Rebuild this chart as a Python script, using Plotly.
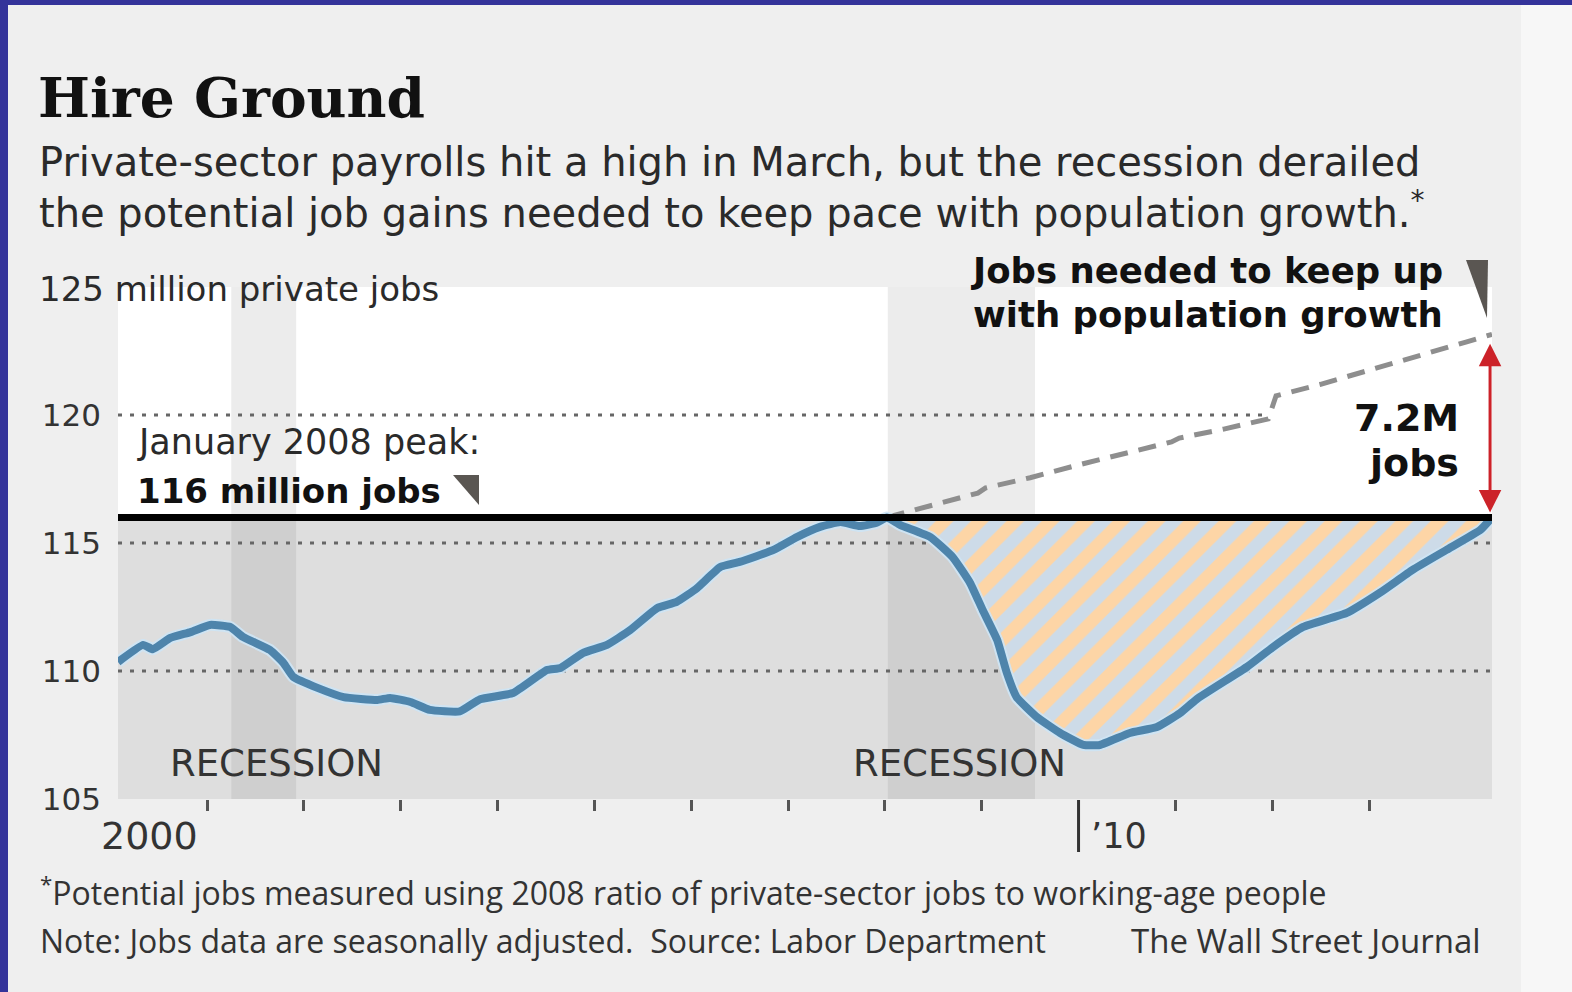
import numpy as np
import plotly.graph_objects as go

# ---------------- data ----------------
# private payrolls, millions (decimal year)
act_years = [2000.08, 2000.34, 2000.44, 2000.62, 2000.83, 2001.03, 2001.24, 2001.37,
             2001.65, 2001.79, 2001.89, 2002.14, 2002.41, 2002.76, 2002.89, 2003.10,
             2003.30, 2003.61, 2003.82, 2004.16, 2004.51, 2004.65, 2004.88, 2005.13,
             2005.37, 2005.65, 2005.85, 2006.06, 2006.30, 2006.50, 2006.85, 2007.09,
             2007.33, 2007.54, 2007.74, 2007.92, 2008.02, 2008.16, 2008.47, 2008.70,
             2008.88, 2009.01, 2009.16, 2009.26, 2009.36, 2009.57, 2009.81, 2010.05,
             2010.22, 2010.53, 2010.81, 2011.05, 2011.22, 2011.74, 2012.01, 2012.32,
             2012.77, 2013.11, 2013.45, 2013.80, 2014.15, 2014.27]
act_values = [110.35, 111.02, 110.85, 111.29, 111.52, 111.80, 111.72, 111.33,
              110.82, 110.31, 109.77, 109.34, 108.98, 108.87, 108.95, 108.79,
              108.48, 108.42, 108.90, 109.14, 110.04, 110.12, 110.70, 111.02,
              111.60, 112.46, 112.70, 113.24, 114.06, 114.26, 114.73, 115.23,
              115.63, 115.82, 115.66, 115.80, 116.00, 115.70, 115.23, 114.45,
              113.44, 112.38, 111.21, 109.92, 108.98, 108.20, 107.58, 107.11,
              107.11, 107.58, 107.81, 108.36, 108.90, 110.16, 110.94, 111.72,
              112.27, 113.05, 113.95, 114.73, 115.51, 116.00]

# potential jobs needed to keep up with population growth
pot_years = [2008.02, 2008.50, 2008.96, 2009.04, 2009.50, 2010.00, 2010.50, 2010.96,
             2011.04, 2011.50, 2011.96, 2012.04, 2012.50, 2013.00, 2013.50, 2014.00, 2014.27]
pot_values = [116.00, 116.50, 116.95, 117.15, 117.55, 118.05, 118.50, 118.95,
              119.10, 119.45, 119.85, 120.75, 121.20, 121.75, 122.25, 122.85, 123.15]

peak_value = 116.0
recessions = [(2001.25, 2001.92), (2008.03, 2009.55)]
grid_values = [110, 115, 120]
ytick_values = [105, 110, 115, 120]
year_ticks = [y for y in range(2001, 2014) if y != 2010]

# ---------------- layout helpers ----------------
W, H = 1572, 992
L, R, T, B = 118, 1492, 287, 799


def PX(x):
    return (x - L) / (R - L)


def PY(y):
    return (B - y) / (B - T)


SANS = "DejaVu Sans, Verdana, sans-serif"
NARROW = "Open Sans, sans-serif"
SERIF = "DejaVu Serif, serif"

xmin, xmax = act_years[0], act_years[-1]

fig = go.Figure()

# hatched gap between actual jobs and the 2008 peak
gap_x = [x for x in act_years if x >= pot_years[0]]
gap_y = [v for x, v in zip(act_years, act_values) if x >= pot_years[0]]
fig.add_trace(go.Scatter(
    x=gap_x + gap_x[::-1], y=gap_y + [peak_value] * len(gap_x),
    fill="toself", mode="none", fillcolor="#cddbe8",
    fillpattern=dict(shape="/", bgcolor="#cddbe8", fgcolor="#fdd5a6", fgopacity=1,
                     size=25, solidity=0.5),
    hoverinfo="skip", showlegend=False))

# dashed potential line
fig.add_trace(go.Scatter(
    x=pot_years, y=pot_values, mode="lines",
    line=dict(color="#8e8e8e", width=5, dash="18px,11px"),
    hoverinfo="skip", showlegend=False))

# halo + actual line
fig.add_trace(go.Scatter(
    x=act_years, y=act_values, mode="lines",
    line=dict(color="rgba(205,228,245,0.9)", width=12, shape="spline", smoothing=0.4),
    hoverinfo="skip", showlegend=False))
fig.add_trace(go.Scatter(
    x=act_years, y=act_values, mode="lines",
    line=dict(color="#4e84ab", width=8, shape="spline", smoothing=0.4),
    hoverinfo="skip", showlegend=False))

shapes = []
# page frame
shapes.append(dict(type="rect", xref="paper", yref="paper", layer="below",
                   x0=PX(0), x1=PX(8), y0=PY(H), y1=PY(0),
                   fillcolor="#34339a", line=dict(width=0)))
shapes.append(dict(type="rect", xref="paper", yref="paper", layer="below",
                   x0=PX(0), x1=PX(W), y0=PY(5), y1=PY(0),
                   fillcolor="#34339a", line=dict(width=0)))
shapes.append(dict(type="rect", xref="paper", yref="paper", layer="below",
                   x0=PX(1521), x1=PX(W), y0=PY(H), y1=PY(5),
                   fillcolor="#f7f7f7", line=dict(width=0)))
# lower grey band
shapes.append(dict(type="rect", xref="x domain", yref="y", layer="below",
                   x0=0, x1=1, y0=ytick_values[0], y1=peak_value,
                   fillcolor="#dedede", line=dict(width=0)))
for a, b in recessions:
    shapes.append(dict(type="rect", xref="x", yref="y", layer="below",
                       x0=a, x1=b, y0=ytick_values[0], y1=peak_value,
                       fillcolor="#cfcfcf", line=dict(width=0)))
    shapes.append(dict(type="rect", xref="x", yref="y", layer="below",
                       x0=a, x1=b, y0=peak_value, y1=125,
                       fillcolor="#ececec", line=dict(width=0)))
# dotted grid lines (120 stops where the potential line crosses it)
cross120 = float(np.interp(120, pot_values, pot_years))
for g in grid_values:
    x1 = cross120 if g == 120 else xmax
    shapes.append(dict(type="line", xref="x", yref="y", layer="below",
                       x0=xmin, x1=x1, y0=g, y1=g,
                       line=dict(color="#666666", width=3, dash="4px,8px")))
# peak line
shapes.append(dict(type="line", xref="x domain", yref="y", layer="above",
                   x0=0, x1=1, y0=peak_value, y1=peak_value,
                   line=dict(color="#000000", width=7)))
# long 2010 tick
shapes.append(dict(type="line", xref="x", yref="paper", layer="above",
                   x0=2010, x1=2010, y0=PY(800), y1=PY(852),
                   line=dict(color="#333333", width=3)))


# pointer triangles
def tri(pts):
    p = ["{}{:.5f},{:.5f}".format("M" if i == 0 else "L", PX(x), PY(y)) for i, (x, y) in enumerate(pts)]
    return " ".join(p) + " Z"


shapes.append(dict(type="path", xref="paper", yref="paper", layer="above",
                   path=tri([(453, 475), (479, 475), (479, 505)]),
                   fillcolor="#5a5652", line=dict(width=0)))
shapes.append(dict(type="path", xref="paper", yref="paper", layer="above",
                   path=tri([(1466, 260), (1488, 260), (1487, 318)]),
                   fillcolor="#5a5652", line=dict(width=0)))

ann = []


def text(t, x, y, size, family=SANS, color="#2a2a2a", anchor="left"):
    ann.append(dict(text=t, x=PX(x), y=PY(y), xref="paper", yref="paper",
                    xanchor=anchor, yanchor="middle", showarrow=False,
                    font=dict(family=family, size=size, color=color)))


text("<b>Hire Ground</b>", 36, 97, 55, family=SERIF, color="#111111")
text("Private-sector payrolls hit a high in March, but the recession derailed", 37, 162, 40)
text("the potential job gains needed to keep pace with population growth.<sup>*</sup>", 37, 210, 40)
text("125 million private jobs", 37, 289, 34)
text("January 2008 peak:", 135, 442, 35)
text("<b>116 million jobs</b>", 135, 491, 34, color="#111111")
text("<b>Jobs needed to keep up</b>", 1445, 270, 35.5, color="#111111", anchor="right")
text("<b>with population growth</b>", 1445, 314, 35.5, color="#111111", anchor="right")
text("<b>7.2M</b>", 1461, 418, 38, color="#111111", anchor="right")
text("<b>jobs</b>", 1461, 463, 38, color="#111111", anchor="right")
text("RECESSION", 168, 763, 37, color="#333333")
text("RECESSION", 851, 763, 37, color="#333333")
text("2000", 99, 836, 38, color="#333333")
text("’10", 1089, 836, 35, color="#333333")
text("<sup>*</sup>Potential jobs measured using 2008 ratio of private-sector jobs to working-age people",
     38, 891, 32, family=NARROW, color="#333333")
text("Note: Jobs data are seasonally adjusted.  Source: Labor Department",
     38, 940, 32, family=NARROW, color="#333333")
text("The Wall Street Journal", 1483, 940, 33, family=NARROW, color="#333333", anchor="right")

# red double arrow showing the gap
ann.append(dict(x=xmax - 0.02, y=act_values[-1], ax=xmax - 0.02, ay=pot_values[-1],
                xref="x", yref="y", axref="x", ayref="y", text="",
                showarrow=True, arrowhead=2, startarrowhead=2, arrowside="end+start",
                arrowsize=1.5, startarrowsize=1.5, arrowwidth=3, arrowcolor="#cc2229",
                standoff=5, startstandoff=8))

fig.update_layout(
    width=W, height=H,
    margin=dict(l=L, r=W - R, t=T, b=H - B, pad=0),
    paper_bgcolor="#efefef", plot_bgcolor="#ffffff",
    showlegend=False, hovermode=False,
    shapes=shapes, annotations=ann,
    xaxis=dict(range=[xmin, xmax], tickvals=year_ticks, ticks="outside", ticklen=11,
               tickwidth=3, tickcolor="#555555", showticklabels=False, showgrid=False,
               zeroline=False, showline=False, fixedrange=True),
    yaxis=dict(range=[105, 125], tickvals=ytick_values, ticktext=[str(v) for v in ytick_values],
               ticks="", showgrid=False, zeroline=False, showline=False,
               tickfont=dict(family=SANS, size=31, color="#333333"),
               ticklabelstandoff=16, fixedrange=True),
)

fig.write_html("out.html", config={"displayModeBar": False})
